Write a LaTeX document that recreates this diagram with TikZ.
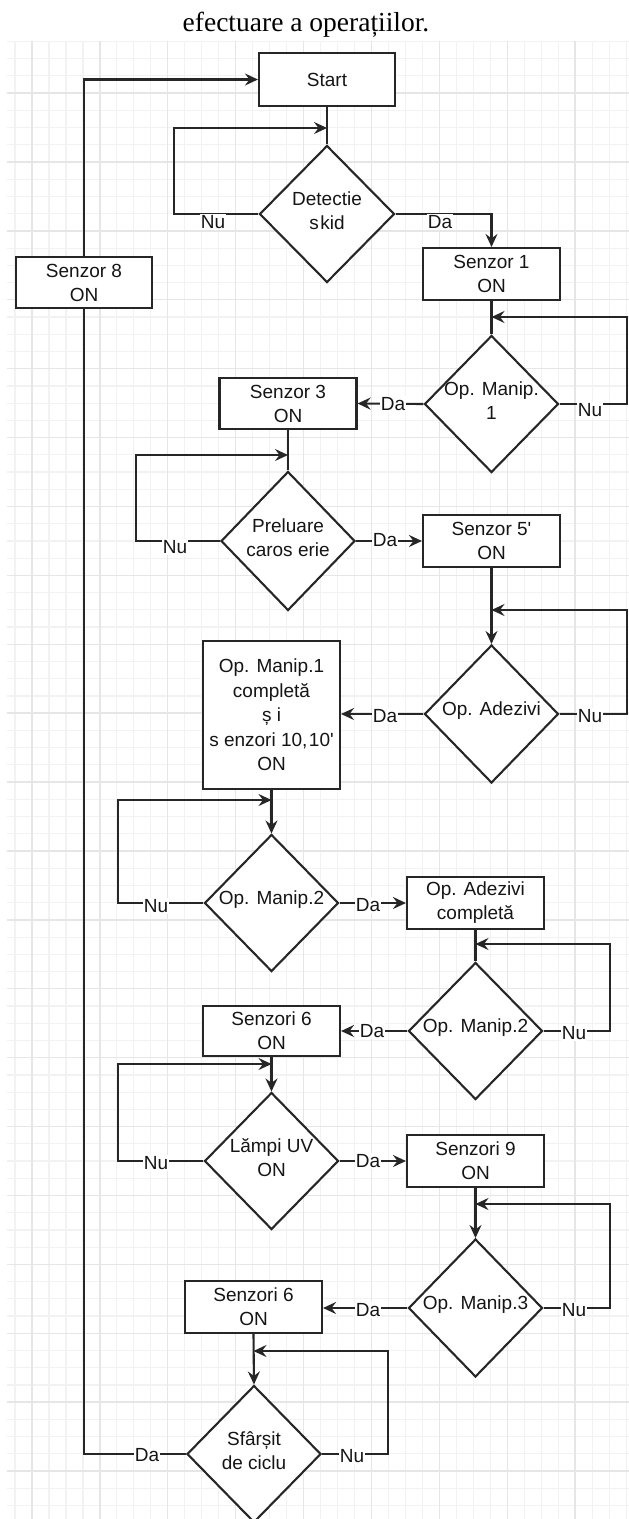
\documentclass[tikz,border=0pt]{standalone}
\usepackage{fontspec}
\setmainfont{Liberation Sans}
\newfontfamily\titlefont{Liberation Serif}
\usetikzlibrary{arrows.meta,shapes.geometric}
\definecolor{lnc}{HTML}{262626}
\definecolor{gminor}{HTML}{F2F2F2}
\definecolor{gmajor}{HTML}{E6E6E6}
\definecolor{txt}{HTML}{151515}
\newcommand\nodefont{\fontsize{19}{24}\selectfont}
\begin{document}
\begin{tikzpicture}[x=1pt,y=-1pt,
  box/.style={draw=lnc, line width=2.1pt, fill=white, inner sep=0pt, align=center,
    font=\nodefont, text=txt, minimum width=137pt, minimum height=52pt},
  dia/.style={draw=lnc, line width=2.1pt, fill=white, diamond, inner sep=0pt,
    minimum width=134pt, minimum height=137pt},
  dtext/.style={align=center, font=\nodefont, text=txt, inner sep=0pt, yshift=3pt},
  conn/.style={draw=lnc, line width=2.1pt},
  arr/.style={conn, -{Stealth[length=13pt, width=12pt, inset=4.5pt]}},
  lbl/.style={fill=white, inner sep=1pt, font=\nodefont, text=txt},
  gmin/.style={draw=gminor, line width=1.2pt},
  gmaj/.style={draw=gmajor, line width=1.4pt}]
\useasboundingbox (0,0) rectangle (629,1519);
\fill[white] (0,0) rectangle (629,1519);
% grid
\begin{scope}
\clip (7,41) rectangle (629,1519);
\foreach \j in {0,...,36} {\pgfmathsetmacro\gx{15+16.975*\j}
  \draw[gmin] (\gx,41) -- (\gx,1519);}
\foreach \j in {0,...,86} {\pgfmathsetmacro\gy{41.4+17.225*\j}
  \draw[gmin] (7,\gy) -- (629,\gy);}
\foreach \j in {1,5,...,33} {\pgfmathsetmacro\gx{15+16.975*\j}
  \draw[gmaj] (\gx,41) -- (\gx,1519);}
\foreach \j in {3,7,...,83} {\pgfmathsetmacro\gy{41.4+17.225*\j}
  \draw[gmaj] (7,\gy) -- (629,\gy);}
\end{scope}
% title
\node[font=\titlefont\fontsize{27.5}{30}\selectfont, anchor=base, inner sep=0pt] (title) at (306,31) {efectuare a operațiilor.};
% boxes
\node[box, minimum width=136pt, minimum height=53pt] (start) at (327,79.5) {Start};
\node[box, minimum width=136pt, minimum height=51pt] (s8) at (84,282.5) {Senzor 8\\ON};
\node[box] (s1) at (491.5,274) {Senzor 1\\ON};
\node[box, minimum height=51pt] (s3) at (288,403.5) {Senzor 3\\ON};
\node[box] (s5) at (491.5,541) {Senzor 5\textquotesingle\\ON};
\node[box, minimum height=148pt, font=\fontsize{19}{24.5}\selectfont] (bb) at (271.5,715) {Op. Manip.1\\completă\\ș i\\s enzori 10,\kern1.5pt10\textquotesingle\\ON};
\node[box] (oac) at (475.5,903) {Op. Adezivi\\completă};
\node[box, minimum height=50pt] (s6) at (271.5,1031) {Senzori 6\\ON};
\node[box] (s9) at (475.5,1161) {Senzori 9\\ON};
\node[box] (s6b) at (253.5,1307) {Senzori 6\\ON};
% diamonds
\node[dia, minimum width=135pt] (d1) at (327,214) {};
\node[dia] (d2) at (491.5,404) {};
\node[dia, minimum height=139pt] (d3) at (288,541) {};
\node[dia, minimum height=138pt] (d4) at (491.5,714) {};
\node[dia] (d5) at (271.5,903) {};
\node[dia] (d6) at (475.5,1031) {};
\node[dia] (d7) at (271.5,1161) {};
\node[dia, minimum height=138pt] (d8) at (475.5,1308) {};
\node[dia] (d9) at (254,1454) {};
\node[dtext] (t1) at (d1) {Detectie\\s\kern1.5pt kid};
\node[dtext] (t2) at (d2) {Op. Manip.\\1};
\node[dtext] (t3) at (d3) {Preluare\\caros erie};
\node[dtext] (t4) at (d4) {Op. Adezivi};
\node[dtext] (t5) at (d5) {Op. Manip.2};
\node[dtext] (t6) at (d6) {Op. Manip.2};
\node[dtext] (t7) at (d7) {Lămpi UV\\ON};
\node[dtext] (t8) at (d8) {Op. Manip.3};
\node[dtext] (t9) at (d9) {Sfârșit\\de ciclu};
% junction coordinates
\coordinate (j1) at (327,128);
\coordinate (j2) at (491.5,317);
\coordinate (j3) at (288,455);
\coordinate (j4) at (491.5,610);
\coordinate (j5) at (271.5,800);
\coordinate (j6) at (475.5,944);
\coordinate (j7) at (271.5,1064);
\coordinate (j8) at (475.5,1204);
\coordinate (j9) at (253.5,1351);
% connectors
\draw[arr] (s8.north) |- (start.west);
\draw[conn] (start.south) -- (d1.north);
\draw[arr] (d1.west) -| (174,128) -- (j1);
\draw[arr] (d1.east) -| (s1.north);
\draw[conn] (s1.south) -- (d2.north);
\draw[arr] (d2.east) -| (627,317) -- (j2);
\draw[arr] (d2.west) -- (s3.east);
\draw[conn] (s3.south) -- (d3.north);
\draw[arr] (d3.west) -| (136,455) -- (j3);
\draw[arr] (d3.east) -- (s5.west);
\draw[arr] (s5.south) -- (d4.north);
\draw[arr] (d4.east) -| (627,610) -- (j4);
\draw[arr] (d4.west) -- (bb.east|-d4.west);
\draw[arr] (bb.south) -- (d5.north);
\draw[arr] (d5.west) -| (118,800) -- (j5);
\draw[arr] (d5.east) -- (oac.west);
\draw[conn] (oac.south) -- (d6.north);
\draw[arr] (d6.east) -| (610,944) -- (j6);
\draw[arr] (d6.west) -- (s6.east);
\draw[arr] (s6.south) -- (d7.north);
\draw[arr] (d7.west) -| (118,1064) -- (j7);
\draw[arr] (d7.east) -- (s9.west);
\draw[arr] (s9.south) -- (d8.north);
\draw[arr] (d8.east) -| (610,1204) -- (j8);
\draw[arr] (d8.west) -- (s6b.east|-d8.west);
\draw[arr] (s6b.south) -- (d9.north);
\draw[arr] (d9.east) -| (388,1351) -- (j9);
\draw[conn] (d9.west) -| (s8.south);
% labels
\node[lbl] (n1) at (213,222) {Nu};
\node[lbl] (y1) at (440,222) {Da};
\node[lbl] (y2) at (393,404) {Da};
\node[lbl] (n2) at (590,410) {Nu};
\node[lbl] (n3) at (175,547) {Nu};
\node[lbl] (y3) at (385,540) {Da};
\node[lbl] (y4) at (385,716) {Da};
\node[lbl] (n4) at (590,716) {Nu};
\node[lbl] (n5) at (156,906) {Nu};
\node[lbl] (y5) at (368,905) {Da};
\node[lbl] (y6) at (372,1031) {Da};
\node[lbl] (n6) at (574,1033) {Nu};
\node[lbl] (n7) at (156,1163) {Nu};
\node[lbl] (y7) at (368,1161) {Da};
\node[lbl] (y8) at (368,1310) {Da};
\node[lbl] (n8) at (574,1310) {Nu};
\node[lbl] (y9) at (147,1455) {Da};
\node[lbl] (n9) at (352,1456) {Nu};
\end{tikzpicture}
\end{document}
